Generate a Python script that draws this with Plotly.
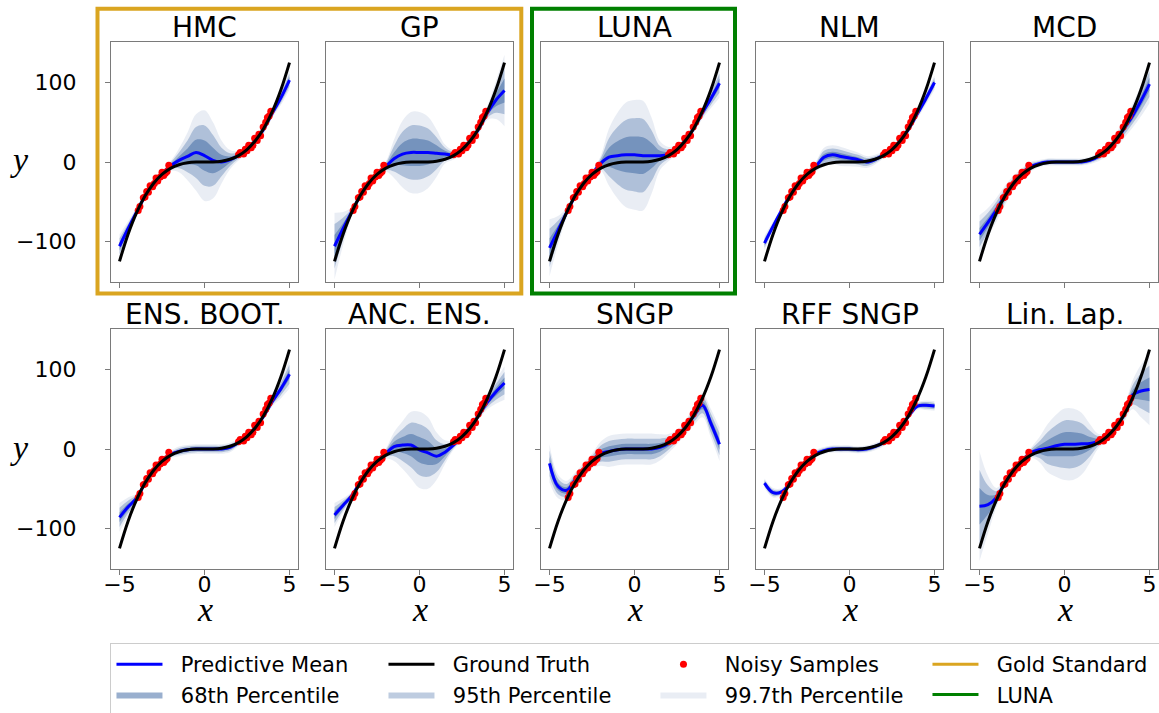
import plotly.graph_objects as go

W, H = 1159, 713

# ---- data -------------------------------------------------------------
x_grid = [-5.0, -4.5, -4.0, -3.5, -3.0, -2.5, -2.0, -1.5, -1.0, -0.5, 0.0,
          0.5, 1.0, 1.5, 2.0, 2.5, 3.0, 3.5, 4.0, 4.5, 5.0]

truth_y = [-125, -91.1, -64, -42.9, -27, -15.6, -8, -3.4, -1, -0.1, 0,
           0.1, 1, 3.4, 8, 15.6, 27, 42.9, 64, 91.1, 125]

sample_x = [-3.9, -3.8, -3.6, -3.5, -3.4, -3.3, -3.2, -3.05, -2.95, -2.85, -2.75,
            -2.6, -2.5, -2.4, -2.3, -2.2, -2.1,
            2.0, 2.1, 2.3, 2.4, 2.5, 2.6, 2.75, 2.85, 2.95, 3.1, 3.2, 3.3,
            3.45, 3.6, 3.7, 3.8, 3.9]
sample_y = [-61, -56, -45, -44, -37, -38, -30, -31, -27, -20, -24,
            -19, -13, -17, -14, -12, -4,
            9, 12, 10, 16, 14, 21, 18, 21, 30, 27, 35, 33,
            44, 50, 56, 58, 64]

titles = ["HMC", "GP", "LUNA", "NLM", "MCD",
          "ENS. BOOT.", "ANC. ENS.", "SNGP", "RFF SNGP", "Lin. Lap."]

mean_hmc = [-106, -84, -63, -43, -27, -15, -5, 2, 7, 12, 8, 2, 0, 3, 8, 15, 27, 42, 62, 81, 103]
std_hmc = [5, 3, 2, 1.5, 1.5, 1.5, 2, 5, 10, 16, 19, 16, 9, 4, 2, 2, 2, 2, 2, 3, 4]

mean_gp = [-106, -84, -63, -43, -27, -15, -6, 4, 10, 12, 12, 12, 11, 10, 9, 15, 27, 42, 62, 78, 90]
std_gp = [14, 7, 2, 1.5, 1.5, 1.5, 2, 8, 14, 17, 17, 15, 10, 4, 2, 2, 2, 2, 3, 8, 15]

mean_luna = [-108, -86, -64, -43, -27, -15, -2, 6, 8, 9, 9, 8, 8, 8, 10, 16, 27, 43, 62, 80, 99]
std_luna = [12, 6, 2, 1.5, 1.5, 1.5, 3, 12, 18, 22, 23, 23, 16, 6, 3, 2, 2, 2, 2.5, 4, 6]

mean_nlm = [-102, -81, -61, -42, -27, -15, -6, 6, 9, 7, 5, 3, 0, 3, 9, 16, 27, 42, 61, 80, 100]
std_nlm = [3, 2, 1.5, 1.5, 1.5, 1.5, 2, 4, 4, 4, 3.5, 3, 2.5, 2, 1.5, 1.5, 1.5, 1.5, 2, 2.5, 3]

mean_mcd = [-91, -76, -60, -42, -26, -14, -6, -2, 0, 0, 0, 0, 0, 2, 7, 15, 26, 42, 58, 77, 98]
std_mcd = [8, 6, 5, 4, 3, 2, 2, 1.5, 1.5, 1.5, 1.5, 1.5, 1.5, 1.5, 2, 2.5, 3, 4, 5, 6.5, 8]

mean_boot = [-86, -73, -62, -43, -27, -15, -7, -3, -1, 0, 0, 0, 0, 2, 8, 16, 27, 42, 60, 76, 94]
std_boot = [6, 4, 2, 1.5, 1.5, 1.5, 1.5, 2, 2, 2, 2, 2, 2, 2, 1.5, 1.5, 1.5, 1.5, 2, 4, 6]

mean_anc = [-83, -71, -59, -42, -27, -15, -6, 3, 5, 5, -1, -5, -9, -4, 5, 15, 27, 43, 59, 72, 83]
std_anc = [5, 3, 1.5, 1.5, 1.5, 1.5, 2, 6, 10, 14, 16, 15, 10, 5, 2, 2, 2, 2, 3, 5, 7]

mean_sngp = [-18, -47, -52, -39, -27, -15, -6, -3, -1, 0, 0, 0, 0, 2, 7, 15, 27, 42, 55, 32, 6]
std_sngp = [8, 5, 4, 3, 3, 3, 5, 6.5, 6.5, 6.5, 6.5, 6.5, 6.5, 5.5, 4, 3, 3, 4, 5, 6, 7]

mean_rff = [-43, -55, -54, -43, -27, -15, -6, -2, 0, 0, 0, -1, 0, 3, 8, 15, 27, 42, 54, 55, 54]
std_rff = [2, 2, 1.5, 1.5, 1.5, 1.5, 1.5, 1.5, 1.5, 1.5, 1.5, 1.5, 1.5, 1.5, 1.5, 1.5, 1.5, 1.5, 1.5, 2, 2]

mean_lap = [-72, -70, -61, -42, -26, -15, -5, -1, 1, 4, 6, 6, 6.5, 7, 10, 15, 27, 43, 68, 73, 75]
std_lap = [23, 12, 4, 2, 1.5, 1.5, 2, 5, 10, 13, 15, 15, 13, 8, 3, 2, 2, 3, 6, 11, 15]

means = [mean_hmc, mean_gp, mean_luna, mean_nlm, mean_mcd,
         mean_boot, mean_anc, mean_sngp, mean_rff, mean_lap]
stds = [std_hmc, std_gp, std_luna, std_nlm, std_mcd,
        std_boot, std_anc, std_sngp, std_rff, std_lap]

band_levels = [3, 2, 1]
band_names = ["99.7th Percentile", "95th Percentile", "68th Percentile"]
band_colors = ["rgba(70,110,165,0.12)", "rgba(70,110,165,0.35)", "rgba(70,110,165,0.55)"]
band_rank = [7, 6, 5]

# ---- layout geometry (pixels) -----------------------------------------
ML, MR, MT, MB = 111, 0, 0, 90          # page margins around the plotting area
PW, PH = W - ML - MR, H - MT - MB
col_left = [111, 326, 541, 756, 971]
panel_w = 187
row_top = [42, 329]
panel_h = 240


def fx(px):
    return (px - ML) / PW


def fy(py):
    return 1 - (py - MT) / PH


def entry(label):
    # a little breathing room between legend symbol and label
    return "\u00a0\u00a0" + label


FONT = "DejaVu Sans"
frame_col = "#7a7a7a"

fig = go.Figure()
layout = dict(
    width=W, height=H,
    margin=dict(l=ML, r=MR, t=MT, b=MB, autoexpand=False),
    paper_bgcolor="white", plot_bgcolor="white",
    font=dict(family=FONT, size=20, color="black"),
    annotations=[], shapes=[],
)

for i in range(10):
    r, c = divmod(i, 5)
    suffix = "" if i == 0 else str(i + 1)
    xa, ya = "x" + suffix, "y" + suffix
    x0, y0 = col_left[c], row_top[r]

    layout["xaxis" + suffix] = dict(
        domain=[max(0.0, fx(x0)), min(1.0, fx(x0 + panel_w))], anchor=ya, range=[-5.5, 5.5],
        tickvals=[-5, 0, 5], ticktext=["\u22125", "0", "5"],
        showticklabels=(r == 1), ticks="outside", ticklen=5, tickwidth=1,
        tickcolor=frame_col, showline=True, linecolor=frame_col, linewidth=1.3,
        mirror=True, showgrid=False, zeroline=False, ticklabelstandoff=-10,
        tickfont=dict(size=22, family=FONT, color="black"),
    )
    layout["yaxis" + suffix] = dict(
        domain=[fy(y0 + panel_h), fy(y0)], anchor=xa, range=[-151, 151],
        tickvals=[-100, 0, 100], ticktext=["\u2212100", "0", "100"],
        showticklabels=(c == 0), ticks="outside", ticklen=5, tickwidth=1,
        tickcolor=frame_col, showline=True, linecolor=frame_col, linewidth=1.3,
        mirror=True, showgrid=False, zeroline=False, ticklabelstandoff=24,
        tickfont=dict(size=22, family=FONT, color="black"),
    )

    m, s = means[i], stds[i]
    first = (i == 0)
    for lev, name, col, rank in zip(band_levels, band_names, band_colors, band_rank):
        lo = [mv - lev * sv for mv, sv in zip(m, s)]
        hi = [mv + lev * sv for mv, sv in zip(m, s)]
        fig.add_trace(go.Scatter(x=x_grid, y=lo, xaxis=xa, yaxis=ya, mode="lines",
                                 line=dict(width=0, shape="spline"), showlegend=False,
                                 hoverinfo="skip"))
        fig.add_trace(go.Scatter(x=x_grid, y=hi, xaxis=xa, yaxis=ya, mode="lines",
                                 line=dict(width=0, shape="spline"), fill="tonexty",
                                 fillcolor=col, name=entry(name), showlegend=first,
                                 legendrank=rank, hoverinfo="skip"))
    fig.add_trace(go.Scatter(x=x_grid, y=m, xaxis=xa, yaxis=ya, mode="lines",
                             line=dict(color="#0000ff", width=3, shape="spline"),
                             name=entry("Predictive Mean"), showlegend=first, legendrank=1))
    fig.add_trace(go.Scatter(x=sample_x, y=sample_y, xaxis=xa, yaxis=ya, mode="markers",
                             marker=dict(color="#ff0000", size=7),
                             name=entry("Noisy Samples"), showlegend=first, legendrank=3))
    fig.add_trace(go.Scatter(x=x_grid, y=truth_y, xaxis=xa, yaxis=ya, mode="lines",
                             line=dict(color="black", width=3, shape="spline"),
                             name=entry("Ground Truth"), showlegend=first, legendrank=2))

    # subplot title
    layout["annotations"].append(dict(
        text=titles[i], x=fx(x0 + panel_w / 2), y=fy(y0 - 15), xref="paper", yref="paper",
        xanchor="center", yanchor="middle", showarrow=False,
        font=dict(size=28, family=FONT, color="black")))
    if c == 0:
        layout["annotations"].append(dict(
            text="<i>y</i>", x=fx(19), y=fy(y0 + panel_h / 2 - 2), xref="paper", yref="paper",
            xanchor="center", yanchor="middle", showarrow=False,
            font=dict(size=34, family="Liberation Serif", color="black")))
    if r == 1:
        layout["annotations"].append(dict(
            text="<i>x</i>", x=fx(x0 + panel_w / 2), y=fy(609), xref="paper", yref="paper",
            xanchor="center", yanchor="middle", showarrow=False,
            font=dict(size=34, family="Liberation Serif", color="black")))

# legend-only entries for the highlight boxes
fig.add_trace(go.Scatter(x=[None], y=[None], mode="lines", name=entry("Gold Standard"),
                         line=dict(color="#daa520", width=3), legendrank=4))
fig.add_trace(go.Scatter(x=[None], y=[None], mode="lines", name=entry("LUNA"),
                         line=dict(color="#008000", width=3), legendrank=8))

# highlight boxes around the gold-standard methods and LUNA
layout["shapes"] += [
    dict(type="rect", xref="paper", yref="paper", x0=fx(97.5), x1=fx(521.3),
         y0=fy(293.5), y1=fy(8.7), line=dict(color="#daa520", width=4)),
    dict(type="rect", xref="paper", yref="paper", x0=fx(532), x1=fx(735),
         y0=fy(293.5), y1=fy(8.7), line=dict(color="#008000", width=4)),
]

layout["legend"] = dict(
    orientation="h", x=-0.0005, y=fy(643), xanchor="left", yanchor="top",
    bordercolor="#cccccc", borderwidth=1, bgcolor="white",
    font=dict(size=21, family=FONT, color="black"),
    entrywidth=211, entrywidthmode="pixels", itemwidth=46, traceorder="normal",
)

fig.update_layout(**layout)
fig.write_html("out.html")
